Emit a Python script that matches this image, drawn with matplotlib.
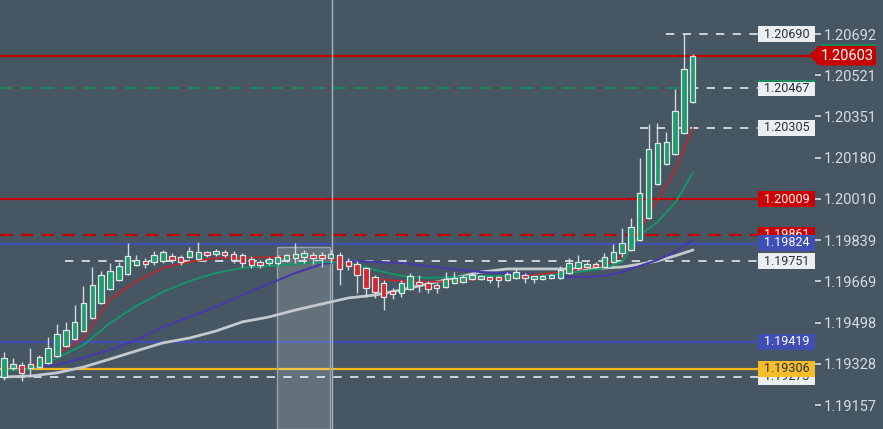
import matplotlib
matplotlib.use("Agg")
import matplotlib.pyplot as plt
from matplotlib.patches import Rectangle, Polygon
from matplotlib.transforms import blended_transform_factory

plt.rcParams["font.family"] = ["Roboto", "DejaVu Sans"]
plt.rcParams["lines.scale_dashes"] = False

# ---------------- data ----------------
opens = [1.19273, 1.19310, 1.19323, 1.19310, 1.19314, 1.19331, 1.19360, 1.19401, 1.19430, 1.19463,
         1.19517, 1.19579, 1.19637, 1.19674, 1.19699, 1.19736, 1.19753, 1.19749, 1.19753, 1.19774,
         1.19769, 1.19769, 1.19761, 1.19786, 1.19782, 1.19786, 1.19782, 1.19778, 1.19761, 1.19749,
         1.19745, 1.19745, 1.19757, 1.19765, 1.19769, 1.19778, 1.19778, 1.19765, 1.19778, 1.19753,
         1.19740, 1.19724, 1.19687, 1.19662, 1.19629, 1.19621, 1.19637, 1.19666, 1.19662, 1.19650,
         1.19645, 1.19662, 1.19666, 1.19678, 1.19678, 1.19687, 1.19683, 1.19674, 1.19683, 1.19695,
         1.19678, 1.19678, 1.19683, 1.19683, 1.19703, 1.19724, 1.19728, 1.19740, 1.19728, 1.19749,
         1.19786, 1.19798, 1.19840, 1.19931, 1.20071, 1.20154, 1.20196, 1.20282, 1.20411]
highs = [1.19376, 1.19352, 1.19335, 1.19393, 1.19364, 1.19438, 1.19492, 1.19501, 1.19571, 1.19650,
         1.19728, 1.19712, 1.19745, 1.19749, 1.19827, 1.19778, 1.19765, 1.19794, 1.19798, 1.19786,
         1.19778, 1.19811, 1.19831, 1.19794, 1.19803, 1.19798, 1.19794, 1.19786, 1.19774, 1.19757,
         1.19769, 1.19778, 1.19782, 1.19827, 1.19798, 1.19790, 1.19790, 1.19798, 1.19790, 1.19765,
         1.19753, 1.19728, 1.19695, 1.19674, 1.19641, 1.19674, 1.19703, 1.19695, 1.19670, 1.19662,
         1.19707, 1.19707, 1.19695, 1.19703, 1.19695, 1.19691, 1.19691, 1.19707, 1.19724, 1.19703,
         1.19691, 1.19695, 1.19699, 1.19732, 1.19765, 1.19778, 1.19749, 1.19749, 1.19786, 1.19823,
         1.19889, 1.19931, 1.20179, 1.20320, 1.20324, 1.20287, 1.20464, 1.20690, 1.20609]
lows = [1.19261, 1.19302, 1.19256, 1.19273, 1.19310, 1.19327, 1.19356, 1.19397, 1.19426, 1.19459,
        1.19513, 1.19575, 1.19633, 1.19670, 1.19695, 1.19732, 1.19724, 1.19736, 1.19745, 1.19745,
        1.19736, 1.19765, 1.19757, 1.19769, 1.19774, 1.19769, 1.19745, 1.19728, 1.19724, 1.19724,
        1.19736, 1.19736, 1.19749, 1.19745, 1.19745, 1.19740, 1.19728, 1.19745, 1.19654, 1.19716,
        1.19621, 1.19604, 1.19600, 1.19550, 1.19596, 1.19604, 1.19633, 1.19625, 1.19621, 1.19621,
        1.19641, 1.19658, 1.19662, 1.19674, 1.19674, 1.19662, 1.19645, 1.19670, 1.19678, 1.19662,
        1.19662, 1.19674, 1.19678, 1.19678, 1.19699, 1.19716, 1.19724, 1.19724, 1.19724, 1.19745,
        1.19769, 1.19794, 1.19836, 1.19927, 1.20067, 1.20150, 1.20192, 1.20278, 1.20407]
closes = [1.19352, 1.19327, 1.19290, 1.19327, 1.19356, 1.19393, 1.19451, 1.19467, 1.19501, 1.19579,
          1.19654, 1.19695, 1.19712, 1.19732, 1.19774, 1.19757, 1.19740, 1.19778, 1.19790, 1.19757,
          1.19749, 1.19794, 1.19790, 1.19778, 1.19794, 1.19778, 1.19757, 1.19745, 1.19736, 1.19736,
          1.19761, 1.19769, 1.19778, 1.19782, 1.19786, 1.19765, 1.19765, 1.19782, 1.19720, 1.19732,
          1.19695, 1.19641, 1.19625, 1.19604, 1.19616, 1.19662, 1.19691, 1.19654, 1.19637, 1.19641,
          1.19678, 1.19683, 1.19687, 1.19695, 1.19687, 1.19674, 1.19674, 1.19699, 1.19707, 1.19683,
          1.19683, 1.19687, 1.19691, 1.19716, 1.19745, 1.19749, 1.19740, 1.19728, 1.19769, 1.19790,
          1.19827, 1.19894, 1.20034, 1.20216, 1.20241, 1.20245, 1.20373, 1.20547, 1.20603]

ma_idx = [0, 3, 6, 9, 12, 15, 18, 21, 24, 27, 30, 33, 36, 39, 42, 45, 48, 51, 54, 57, 60, 63, 66,
          68, 70, 72, 74, 76, 78]
ma_red = [1.19314, 1.19314, 1.19368, 1.19434, 1.19592, 1.19670, 1.19724, 1.19749, 1.19765, 1.19765,
          1.19769, 1.19769, 1.19769, 1.19740, 1.19678, 1.19670, 1.19666, 1.19670, 1.19678, 1.19683,
          1.19695, 1.19707, 1.19724, 1.19736, 1.19774, 1.19889, 1.20005, 1.20129, 1.20303]
ma_green = [1.19302, 1.19306, 1.19352, 1.19405, 1.19496, 1.19567, 1.19625, 1.19670, 1.19703, 1.19724,
            1.19732, 1.19740, 1.19749, 1.19745, 1.19716, 1.19691, 1.19683, 1.19687, 1.19691, 1.19691,
            1.19691, 1.19699, 1.19712, 1.19724, 1.19749, 1.19860, 1.19914, 1.19993, 1.20117]
ma_purple = [1.19314, 1.19314, 1.19323, 1.19352, 1.19385, 1.19426, 1.19480, 1.19521, 1.19563, 1.19612,
             1.19658, 1.19703, 1.19740, 1.19753, 1.19749, 1.19745, 1.19732, 1.19720, 1.19707, 1.19703,
             1.19695, 1.19687, 1.19687, 1.19691, 1.19707, 1.19732, 1.19757, 1.19790, 1.19840]
ma_white = [1.19273, 1.19277, 1.19290, 1.19314, 1.19347, 1.19381, 1.19414, 1.19434, 1.19463, 1.19501,
            1.19521, 1.19550, 1.19575, 1.19600, 1.19612, 1.19633, 1.19658, 1.19683, 1.19707, 1.19720,
            1.19720, 1.19720, 1.19720, 1.19724, 1.19728, 1.19740, 1.19753, 1.19774, 1.19798]

axis_ticks = [1.20692, 1.20521, 1.20351, 1.20180, 1.20010, 1.19839, 1.19669, 1.19498, 1.19328, 1.19157]
current_price = 1.20603
level_labels = [1.20690, 1.20467, 1.20305, 1.20009, 1.19861, 1.19824, 1.19751, 1.19419, 1.19273, 1.19306]
highlight_range = (31, 37)   # candle span of the shaded selection
highlight_top = 1.19811
crosshair_index = 37

# ---------------- style ----------------
BG = "#465662"
UP = "#1f9d6c"
DOWN = "#d7262e"
OUTLINE = "#dfe5e8"
WICK = "#d3d9dd"
RED_LINE = "#c40000"
BLUE_LINE = "#3f4fb6"
YELLOW_LINE = "#f4b81e"
GREEN_DASH = "#1a8a5c"
WHITE_DASH = "#d9dfe2"
TXT = "#d6dcdf"

W, H = 883, 429
PX = 8.83          # pixels per candle
AX_W = 815         # pixel width of plotting axes
Y_MIN, Y_MAX = 1.190577, 1.208327
PPP = (Y_MAX - Y_MIN) / H  # price per pixel

fig = plt.figure(figsize=(W / 100, H / 100), dpi=100)
fig.patch.set_facecolor(BG)
ax = fig.add_axes([0, 0, AX_W / W, 1])
ax.set_facecolor(BG)
ax.set_xlim(-4 / PX, (AX_W - 4) / PX)
ax.set_ylim(Y_MIN, Y_MAX)
for s in ax.spines.values():
    s.set_visible(False)
ax.set_xticks([])
ax.yaxis.tick_right()
ax.set_yticks(axis_ticks)
ax.set_yticklabels([f"{t:.5f}" for t in axis_ticks])
ax.tick_params(axis="y", direction="out", length=4.5, width=1.2, color=TXT,
               labelcolor=TXT, labelsize=10.5, pad=2)

fx = lambda px: px / AX_W  # axes fraction from pixel

# level lines
LW = 1.6
ax.axhline(1.20603, xmin=0, xmax=fx(810), color=RED_LINE, lw=LW, zorder=1)
ax.axhline(1.20009, xmin=0, xmax=fx(758), color=RED_LINE, lw=LW, zorder=1)
ax.axhline(1.19861, xmin=0, xmax=fx(758), color=RED_LINE, lw=LW, ls=(0, (9, 6)), zorder=1)
ax.axhline(1.19824, xmin=0, xmax=fx(758), color=BLUE_LINE, lw=LW, zorder=1)
ax.axhline(1.19419, xmin=0, xmax=fx(758), color=BLUE_LINE, lw=LW, zorder=1)
ax.axhline(1.19306, xmin=0, xmax=fx(758), color=YELLOW_LINE, lw=LW, zorder=1)
ax.axhline(1.20467, xmin=0, xmax=fx(690), color=GREEN_DASH, lw=1.4, ls=(0, (9, 6)), zorder=1)
wd = (0, (6, 6))
ax.axhline(1.20690, xmin=fx(666), xmax=fx(758), color=WHITE_DASH, lw=1.3, ls=wd, zorder=1)
ax.axhline(1.20467, xmin=fx(690), xmax=fx(758), color=WHITE_DASH, lw=1.3, ls=wd, zorder=1)
ax.axhline(1.20305, xmin=fx(640), xmax=fx(758), color=WHITE_DASH, lw=1.3, ls=wd, zorder=1)
ax.axhline(1.19751, xmin=fx(65), xmax=fx(758), color=WHITE_DASH, lw=1.3, ls=wd, zorder=1)
ax.axhline(1.19273, xmin=0, xmax=fx(758), color=WHITE_DASH, lw=1.3, ls=wd, zorder=1)

# highlight selection box
x0 = highlight_range[0] - 0.1
x1 = highlight_range[1] - 0.05
ax.add_patch(Rectangle((x0, Y_MIN), x1 - x0, highlight_top - Y_MIN, facecolor="white",
                       alpha=0.16, edgecolor="none", zorder=1.5))
ax.add_patch(Rectangle((x0, Y_MIN), x1 - x0, highlight_top - Y_MIN, facecolor="none",
                       edgecolor="#9aa6ad", lw=1.0, zorder=1.6))
ax.axvline(crosshair_index + 0.1, color="#a9b5bc", lw=1.0, zorder=1.7)

# moving averages
ax.plot(ma_idx, ma_white, color="#c3c9cd", lw=2.0, zorder=2)
ax.plot(ma_idx, ma_purple, color="#4838a8", lw=1.5, zorder=2.1)
ax.plot(ma_idx, ma_green, color="#17956a", lw=1.4, zorder=2.2)
ax.plot(ma_idx, ma_red, color="#c0282b", lw=1.2, zorder=2.3)

# candles
idx = list(range(len(opens)))
ax.vlines(idx, lows, highs, color=WICK, lw=1.0, zorder=3)
min_h = 3 * PPP
bottoms = [min(o, c) for o, c in zip(opens, closes)]
heights = [max(abs(c - o), min_h) for o, c in zip(opens, closes)]
colors = [UP if c >= o else DOWN for o, c in zip(opens, closes)]
ax.bar(idx, heights, bottom=bottoms, width=0.62, color=colors, edgecolor=OUTLINE,
       linewidth=0.9, zorder=4)

# right-side labels
bt = blended_transform_factory(ax.transAxes, ax.transData)
BOX_H = 16 * PPP
label_style = {
    1.20690: ("#eceff1", "#263238"),
    1.20467: ("#eceff1", "#263238"),
    1.20305: ("#eceff1", "#263238"),
    1.20009: ("#cc0000", "white"),
    1.19861: ("#cc0000", "white"),
    1.19824: ("#3f4fb6", "white"),
    1.19751: ("#eceff1", "#263238"),
    1.19419: ("#3f4fb6", "white"),
    1.19273: ("#eceff1", "#263238"),
    1.19306: ("#f6bd2a", "#263238"),
}
for k, v in enumerate(level_labels):
    fc, tc = label_style[v]
    y = v + (1 * PPP if v == 1.19824 else 0)
    ax.add_patch(Rectangle((fx(758), y - BOX_H / 2), fx(815) - fx(758), BOX_H,
                           transform=bt, facecolor=fc, edgecolor="none",
                           clip_on=False, zorder=10 + k))
    if v == 1.20467:
        ax.add_patch(Rectangle((fx(758), y + BOX_H / 2 - 1.5 * PPP), fx(815) - fx(758), 1.5 * PPP,
                               transform=bt, facecolor=GREEN_DASH, edgecolor="none",
                               clip_on=False, zorder=10 + k))
    ax.text(fx(786.5), y, f"{v:.5f}", transform=bt, ha="center", va="center",
            fontsize=9, color=tc, zorder=10 + k, clip_on=False)

# current price tag
ft = blended_transform_factory(fig.transFigure, ax.transData)
ch = 10 * PPP
tag = Polygon([(809 / W, current_price), (819 / W, current_price + ch),
               (876 / W, current_price + ch), (876 / W, current_price - ch),
               (819 / W, current_price - ch)], closed=True, transform=ft,
              facecolor="#c80000", edgecolor="none", clip_on=False, zorder=30)
ax.add_patch(tag)
ax.add_patch(Polygon([(819 / W, current_price + ch), (876 / W, current_price + ch),
                      (876 / W, current_price + ch + 2 * PPP), (821 / W, current_price + ch + 2 * PPP)],
                     closed=True, transform=ft, facecolor="#1a8a5c", edgecolor="none",
                     clip_on=False, zorder=30))
ax.text(847.5 / W, current_price, f"{current_price:.5f}", transform=ft, ha="center",
        va="center", fontsize=10.5, color="white", zorder=31, clip_on=False)

fig.savefig("out.png", dpi=100, facecolor=BG)
